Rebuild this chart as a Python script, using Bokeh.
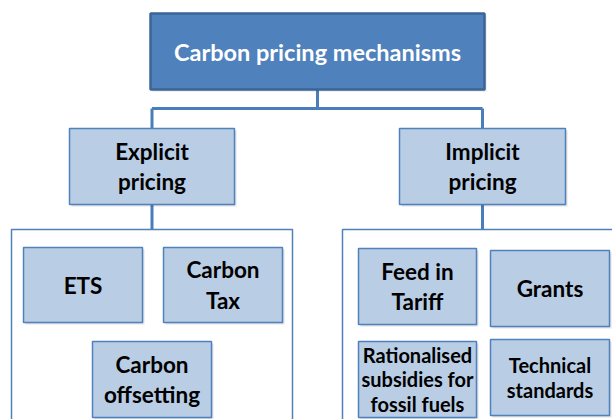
from bokeh.plotting import figure
from bokeh.models import Range1d
from bokeh.core.properties import value
from bokeh.embed import file_html
from bokeh.resources import INLINE

# ---- content ----
root_label = ["Carbon pricing mechanisms"]
branch_labels = ["Explicit\npricing", "Implicit\npricing"]
leaf_labels = ["ETS", "Carbon\nTax", "Carbon\noffsetting",
               "Feed in\nTariff", "Grants"]
small_leaf_labels = ["Rationalised\nsubsidies for\nfossil fuels", "Technical\nstandards"]

# ---- layout (image pixel coords, y downward) ----
root_box = dict(l=[150], r=[484], t=[13], b=[89])
branch_box = dict(l=[69, 399], r=[234, 565], t=[128, 128], b=[204, 204])
group_box = dict(l=[11, 342], r=[292, 640], t=[229, 229], b=[440, 440])
leaf_box = dict(l=[23, 163, 92, 358, 490], r=[142, 282, 211, 476, 609],
                t=[247, 247, 341, 248, 250], b=[322, 322, 417, 324, 326])
small_leaf_box = dict(l=[358, 490], r=[476, 609], t=[341, 339], b=[417, 415])

W, H = 612, 419
p = figure(width=W, height=H, output_backend="svg", toolbar_location=None,
           x_range=Range1d(0, W), y_range=Range1d(H, 0),
           min_border=0, outline_line_color=None, background_fill_color="white")
p.xaxis.visible = False
p.yaxis.visible = False
p.xgrid.visible = False
p.ygrid.visible = False

DARK = "#3B6597"
MID = "#4F81BD"
LIGHT = "#B9CDE5"
LINE = "#4A7EBB"
FONT = value("Lato")

def shadow(d, off=2):
    p.quad(left=[x + off for x in d["l"]], right=[x + off for x in d["r"]],
           top=[y + off for y in d["t"]], bottom=[y + off for y in d["b"]],
           fill_color="#000000", fill_alpha=0.12, line_color=None)

def center(d):
    xs = [(a + b) / 2 for a, b in zip(d["l"], d["r"])]
    ys = [(a + b) / 2 for a, b in zip(d["t"], d["b"])]
    return xs, ys

# group containers
p.quad(left=group_box["l"], right=group_box["r"], top=group_box["t"], bottom=group_box["b"],
       fill_color="white", line_color=MID, line_width=1.5)

# connectors
rx, _ = center(root_box)
bx, _ = center(branch_box)
ybar = 108
p.line([rx[0], rx[0]], [root_box["b"][0], ybar], line_color=LINE, line_width=3)
p.line([bx[0], bx[1]], [ybar, ybar], line_color=LINE, line_width=3)
for x in bx:
    p.line([x, x], [ybar, branch_box["t"][0]], line_color=LINE, line_width=3)
    p.line([x, x], [branch_box["b"][0], group_box["t"][0]], line_color=LINE, line_width=3)

# root
shadow(root_box)
p.quad(left=root_box["l"], right=root_box["r"], top=root_box["t"], bottom=root_box["b"],
       fill_color=MID, line_color=DARK, line_width=2.5)
cx, cy = center(root_box)
p.text(x=cx, y=cy, text=root_label, text_color="white", text_font=FONT,
       text_font_style="bold", text_font_size="23.5px", text_align="center",
       text_baseline="middle")

# branches
shadow(branch_box)
p.quad(left=branch_box["l"], right=branch_box["r"], top=branch_box["t"], bottom=branch_box["b"],
       fill_color=LIGHT, line_color=MID, line_width=1.5)
cx, cy = center(branch_box)
p.text(x=cx, y=cy, text=branch_labels, text_color="black", text_font=FONT,
       text_font_style="bold", text_font_size="22.5px", text_align="center",
       text_baseline="middle", text_line_height=1.12)

# leaves
shadow(leaf_box)
p.quad(left=leaf_box["l"], right=leaf_box["r"], top=leaf_box["t"], bottom=leaf_box["b"],
       fill_color=LIGHT, line_color=MID, line_width=1.5)
cx, cy = center(leaf_box)
p.text(x=cx, y=cy, text=leaf_labels, text_color="black", text_font=FONT,
       text_font_style="bold", text_font_size="22.5px", text_align="center",
       text_baseline="middle", text_line_height=1.12)

shadow(small_leaf_box)
p.quad(left=small_leaf_box["l"], right=small_leaf_box["r"], top=small_leaf_box["t"],
       bottom=small_leaf_box["b"], fill_color=LIGHT, line_color=MID, line_width=1.5)
cx, cy = center(small_leaf_box)
p.text(x=cx, y=cy, text=small_leaf_labels, text_color="black", text_font=FONT,
       text_font_style="bold", text_font_size="20px", text_align="center",
       text_baseline="middle", text_line_height=1.04)

open("out.html", "w").write(file_html(p, INLINE))
